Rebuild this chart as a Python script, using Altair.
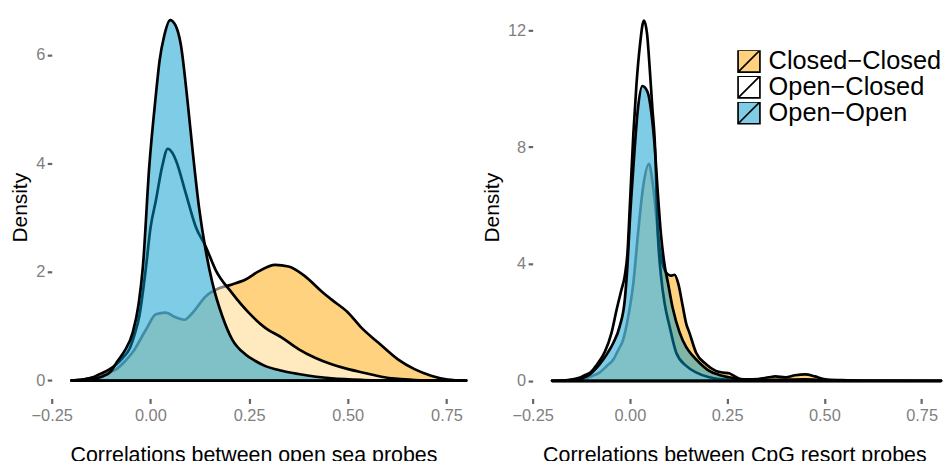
import altair as alt
import pandas as pd

# ---------------- data ----------------
pairs = ["Closed−Closed", "Open−Closed", "Open−Open"]
fills = ["rgba(255,165,0,0.5)", "rgba(255,255,255,0.5)", "rgba(0,154,205,0.5)"]

x_ticks = [-0.25, 0.0, 0.25, 0.5, 0.75]
sea_y_ticks = [0, 2, 4, 6]
cpg_y_ticks = [0, 4, 8, 12]

sea_title = "Correlations between open sea probes"
cpg_title = "Correlations between CpG resort probes"

# open sea panel
sea_cc_x = [-0.20, -0.16, -0.128, -0.105, -0.086, -0.065, -0.045, -0.011, 0.014, 0.038, 0.065, 0.086,
            0.107, 0.14, 0.174, 0.207, 0.241, 0.274, 0.316, 0.35, 0.392, 0.434, 0.459, 0.501, 0.535,
            0.577, 0.627, 0.669, 0.711, 0.753, 0.80]
sea_cc_y = [0.0, 0.03, 0.09, 0.15, 0.21, 0.35, 0.52, 0.94, 1.22, 1.25, 1.16, 1.12,
            1.25, 1.55, 1.70, 1.77, 1.86, 2.01, 2.13, 2.10, 1.92, 1.64, 1.49, 1.25, 0.97,
            0.70, 0.39, 0.21, 0.09, 0.02, 0.0]

sea_oc_x = [-0.20, -0.17, -0.15, -0.128, -0.105, -0.086, -0.07, -0.053, -0.04, -0.028, -0.011, 0.0,
            0.014, 0.03, 0.044, 0.055, 0.065, 0.09, 0.115, 0.14, 0.165, 0.207, 0.249, 0.291, 0.333,
            0.375, 0.417, 0.459, 0.501, 0.543, 0.585, 0.627, 0.67, 0.72, 0.80]
sea_oc_y = [0.0, 0.02, 0.05, 0.12, 0.20, 0.30, 0.42, 0.58, 0.85, 1.19, 2.10, 2.80,
            3.32, 3.95, 4.27, 4.20, 4.05, 3.44, 2.83, 2.47, 2.04, 1.61, 1.25, 0.97, 0.79,
            0.58, 0.42, 0.30, 0.21, 0.14, 0.07, 0.03, 0.01, 0.0, 0.0]

sea_oo_x = [-0.20, -0.17, -0.14, -0.12, -0.10, -0.086, -0.065, -0.045, -0.03, -0.019, -0.003, 0.014,
            0.023, 0.035, 0.050, 0.063, 0.077, 0.094, 0.107, 0.123, 0.14, 0.157, 0.182, 0.207,
            0.241, 0.266, 0.29, 0.333, 0.375, 0.42, 0.459, 0.54, 0.62, 0.80]
sea_oo_y = [0.0, 0.01, 0.04, 0.08, 0.17, 0.33, 0.55, 0.88, 1.40, 2.10, 3.93, 5.27,
            5.88, 6.35, 6.64, 6.55, 6.19, 5.15, 4.23, 3.20, 2.40, 1.80, 1.19, 0.76,
            0.48, 0.36, 0.27, 0.18, 0.12, 0.07, 0.04, 0.01, 0.0, 0.0]

# CpG resort panel
cpg_cc_x = [-0.20, -0.15, -0.119, -0.10, -0.077, -0.06, -0.042, -0.03, -0.017, -0.004, 0.009, 0.021,
            0.034, 0.049, 0.06, 0.077, 0.094, 0.105, 0.115, 0.124, 0.136, 0.145, 0.153, 0.17,
            0.196, 0.221, 0.24, 0.255, 0.27, 0.285, 0.30, 0.33, 0.357, 0.374, 0.40, 0.425,
            0.451, 0.476, 0.502, 0.544, 0.60, 0.80]
cpg_cc_y = [0.0, 0.02, 0.06, 0.15, 0.29, 0.50, 0.74, 1.05, 1.42, 2.21, 3.35, 5.05,
            6.63, 7.43, 6.63, 4.48, 3.69, 3.60, 3.63, 3.35, 2.55, 1.95, 1.65, 0.97,
            0.57, 0.34, 0.28, 0.26, 0.15, 0.06, 0.05, 0.06, 0.12, 0.15, 0.12, 0.19,
            0.22, 0.15, 0.05, 0.02, 0.0, 0.0]

cpg_oc_x = [-0.20, -0.17, -0.15, -0.13, -0.115, -0.10, -0.085, -0.064, -0.047, -0.034, -0.022, -0.013,
            -0.006, 0.0, 0.009, 0.017, 0.026, 0.036, 0.044, 0.051, 0.058, 0.064, 0.072, 0.08,
            0.09, 0.102, 0.119, 0.145, 0.17, 0.204, 0.25, 0.30, 0.40, 0.45, 0.50, 0.55, 0.80]
cpg_oc_y = [0.0, 0.01, 0.04, 0.10, 0.20, 0.30, 0.55, 1.00, 1.65, 2.44, 3.10, 3.60,
            4.40, 6.00, 8.45, 10.15, 11.50, 12.33, 11.90, 10.70, 9.30, 8.20, 5.00, 3.60,
            2.60, 1.87, 0.97, 0.51, 0.29, 0.12, 0.04, 0.02, 0.04, 0.05, 0.02, 0.0, 0.0]

cpg_oo_x = [-0.20, -0.16, -0.136, -0.12, -0.102, -0.085, -0.068, -0.055, -0.042, -0.026, -0.013, -0.006,
            0.0, 0.009, 0.021, 0.032, 0.045, 0.055, 0.064, 0.072, 0.08, 0.09, 0.098, 0.11,
            0.128, 0.145, 0.162, 0.18, 0.204, 0.23, 0.255, 0.30, 0.35, 0.80]
cpg_oo_y = [0.0, 0.01, 0.03, 0.10, 0.23, 0.45, 0.74, 1.00, 1.31, 1.87, 2.78, 4.00,
            5.50, 7.31, 9.35, 10.09, 9.90, 9.20, 8.00, 6.40, 5.00, 3.90, 3.35, 2.50,
            1.65, 1.15, 0.85, 0.60, 0.34, 0.20, 0.12, 0.03, 0.01, 0.0]

rows = []
for panel, pair, xs, ys in [
    ("sea", pairs[0], sea_cc_x, sea_cc_y),
    ("sea", pairs[1], sea_oc_x, sea_oc_y),
    ("sea", pairs[2], sea_oo_x, sea_oo_y),
    ("cpg", pairs[0], cpg_cc_x, cpg_cc_y),
    ("cpg", pairs[1], cpg_oc_x, cpg_oc_y),
    ("cpg", pairs[2], cpg_oo_x, cpg_oo_y),
]:
    for x, y in zip(xs, ys):
        rows.append({"panel": panel, "pair": pair, "x": x, "y": y})
df = pd.DataFrame(rows)

FONT = "Liberation Sans"


def make_panel(name, xdom, width, ydom, yticks, xtitle, show_legend):
    xaxis = alt.Axis(values=x_ticks, format=".2f", title=xtitle, grid=False, domain=False,
                     tickSize=5, tickWidth=2.2, tickColor="#666666", labelColor="#7f7f7f",
                     labelFont=FONT, labelFontSize=16.5, labelPadding=4, labelFlush=False,
                     titleFont=FONT, titleFontSize=21.5, titleFontWeight="normal", titleColor="black",
                     titlePadding=20.5, titleX=203)
    yaxis = alt.Axis(values=yticks, format="d", title="Density", grid=False, domain=False,
                     tickSize=4.5, tickWidth=2.2, tickColor="#666666", labelColor="#7f7f7f",
                     labelFont=FONT, labelFontSize=16.5, labelPadding=2.5,
                     titleFont=FONT, titleFontSize=21, titleFontWeight="normal", titleColor="black",
                     titlePadding=5, titleY=199)
    if show_legend:
        legend = alt.Legend(title=None, orient="none", legendX=205, legendY=41,
                            symbolType="M-1,-1H1V1H-1Z M-1,1L1,-1", symbolSize=484,
                            symbolStrokeColor="black", symbolStrokeWidth=1.7,
                            labelFont=FONT, labelFontSize=25.5, labelColor="black",
                            labelOffset=7, labelLimit=400, rowPadding=0.01, clipHeight=22,
                            padding=0, offset=0)
    else:
        legend = None
    base = alt.Chart(df[df.panel == name])
    layers = []
    for p in pairs:
        layers.append(
            base.transform_filter(alt.datum.pair == p)
            .mark_area(interpolate="monotone", stroke="black", strokeWidth=2.7,
                       strokeJoin="round", fillOpacity=1)
            .encode(
                x=alt.X("x:Q", scale=alt.Scale(domain=xdom, nice=False, zero=False), axis=xaxis),
                y=alt.Y("y:Q", scale=alt.Scale(domain=ydom, nice=False, zero=False), axis=yaxis),
                y2=alt.datum(0),
                fill=alt.Fill("pair:N", scale=alt.Scale(domain=pairs, range=fills), legend=legend),
            )
        )
    return alt.layer(*layers).properties(width=width, height=391.5)


left = make_panel("sea", [-0.25, 0.85], 437, [-0.33, 6.835], sea_y_ticks, sea_title, False)
right = make_panel("cpg", [-0.25, 0.80], 411, [-0.605, 12.71], cpg_y_ticks, cpg_title, True)

chart = (
    alt.hconcat(left, right, spacing=-5)
    .resolve_scale(fill="independent")
    .properties(padding={"left": 1, "top": 0, "right": 0, "bottom": 0}, background="white")
    .configure_view(stroke=None)
)

chart.save("out.html", embed_options={"renderer": "svg", "actions": False})
